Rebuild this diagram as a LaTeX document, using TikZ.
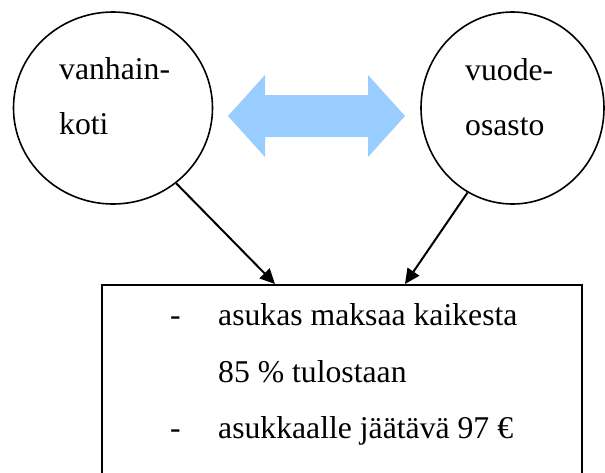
\documentclass[tikz,border=0pt]{standalone}
\usepackage{fontspec}
\setmainfont{Liberation Serif}
\usetikzlibrary{arrows.meta,shapes.geometric}
\definecolor{vaaleansininen}{RGB}{153, 204, 255}

\begin{document}
\begin{tikzpicture}[x=1pt,y=-1pt,
        teksti/.style={anchor=base west,inner sep=0pt,font=\fontsize{31.7}{32}\selectfont},
        pallo/.style={draw,ellipse,line width=1.6pt,inner sep=0pt,minimum height=192pt},
        nuoli/.style={-{Triangle[length=15pt,width=14pt]},line width=2pt}]
        \clip (0,0) rectangle (605,472);

        % Circles
        \node[pallo,minimum width=199pt] (koti) at (113,108) {};
        \node[pallo,minimum width=183pt] (osasto) at (512.5,108) {};
        \node[teksti] (koti1) at (59,79) {vanhain-};
        \node[teksti] (koti2) at (59,134) {koti};
        \node[teksti] (osasto1) at (465,80) {vuode-};
        \node[teksti] (osasto2) at (465,135) {osasto};

        % Blue double arrow
        \fill[vaaleansininen] (228,116) -- (265,75) -- (265,95) -- (368,95) -- (368,75)
            -- (405,116) -- (368,157) -- (368,137) -- (265,137) -- (265,157) -- cycle;

        % Box
        \node[draw,line width=1.8pt,inner sep=0pt,anchor=north west,
            minimum width=480pt,minimum height=220pt] (maksu) at (101,284) {};
        \node[teksti] (viiva1) at (170,325) {-};
        \node[teksti] (rivi1) at (218,325) {asukas maksaa kaikesta};
        \node[teksti] (rivi2) at (218,382) {85 \% tulostaan};
        \node[teksti] (viiva2) at (170,438) {-};
        \node[teksti] (rivi3) at (218,438) {asukkaalle jäätävä 97 €};

        % Arrows
        \draw[nuoli] (koti.-50) -- ([xshift=174pt]maksu.north west);
        \draw[nuoli] (osasto.-118) -- ([xshift=304pt]maksu.north west);
    \end{tikzpicture}
\end{document}
